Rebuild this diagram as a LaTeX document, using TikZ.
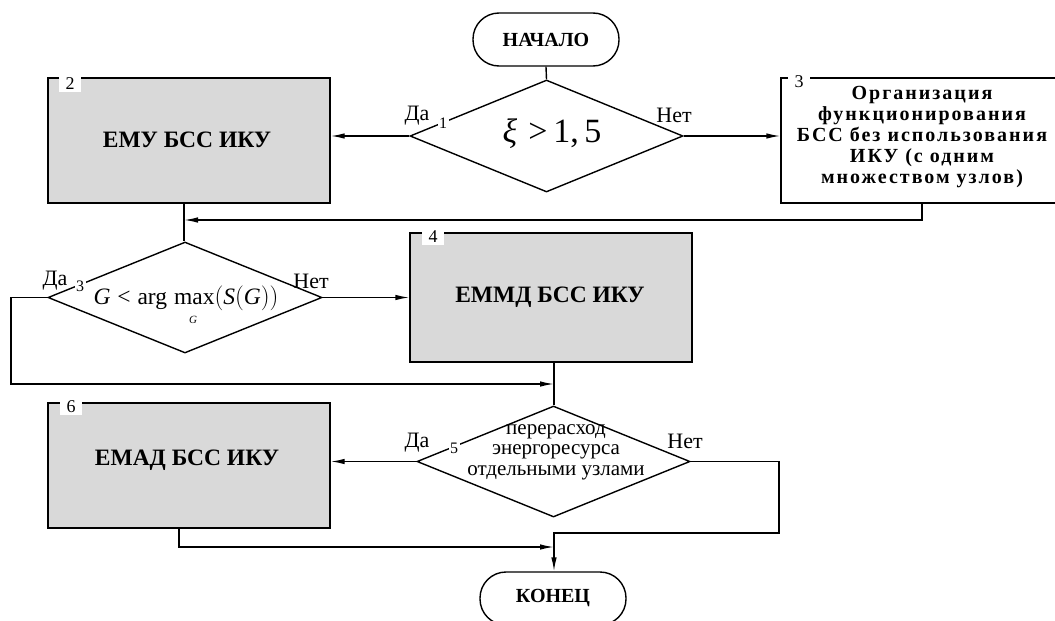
\documentclass[tikz,border=0pt]{standalone}
\usepackage{fontspec}
\setmainfont{Liberation Serif}[BoldFont={Liberation Serif Bold},ItalicFont={Liberation Serif Italic}]
\usetikzlibrary{shapes.geometric,arrows.meta}
\tikzset{
  box/.style={draw, line width=1.4pt, fill=boxgrey, minimum width=282pt, inner sep=0pt},
  wbox/.style={draw, line width=1.4pt, fill=white, minimum width=282pt, inner sep=0pt},
  term/.style={draw, line width=1.4pt, rounded corners=26pt, minimum width=146pt, minimum height=53pt, inner sep=0pt, font=\fontsize{20}{22}\selectfont\bfseries},
  dia/.style={draw, diamond, line width=1.4pt, inner sep=0pt},
  conn/.style={line width=1.4pt},
  arr/.style={line width=1.4pt, -{Latex[length=14pt,width=5.5pt]}},
  yn/.style={font=\fontsize{22}{22}\selectfont, inner sep=1pt},
  num/.style={font=\fontsize{16}{16}\selectfont, fill=white, inner sep=1.5pt},
  bnum/.style={font=\fontsize{18}{18}\selectfont, fill=white, inner sep=0pt, minimum width=22pt, minimum height=16pt},
  btext/.style={font=\fontsize{23.5}{26}\selectfont\bfseries},
}
\definecolor{boxgrey}{HTML}{D9D9D9}
\begin{document}
\begin{tikzpicture}[x=1pt,y=-1pt]
\useasboundingbox (0,0) rectangle (1055,621);
\clip (0,0) rectangle (1055,621);
% terminals
\node[term] (start) at (546,39.5) {НАЧАЛО};
\node[term] (end) at (553,598.5) {КОНЕЦ};
% diamonds
\node[dia, minimum width=273pt, minimum height=112pt] (d1) at (546.5,136) {};
\node[dia, minimum width=274pt, minimum height=111pt] (d3) at (185,297.5) {};
\node[dia, minimum width=273pt, minimum height=111pt] (d5) at (553.5,461.5) {};
% boxes
\node[box, minimum height=125pt] (b2) at (189,140.5) {};
\node[wbox, minimum height=125pt] (b3) at (922,140.5) {};
\node[box, minimum height=129pt] (b4) at (551,297.5) {};
\node[box, minimum height=125pt] (b6) at (189,465.5) {};
% box texts
\node[btext] (t2) at (187,140) {ЕМУ БСС ИКУ};
\node[btext] (t4) at (550,297) {ЕММД БСС ИКУ};
\node[btext] (t6) at (187,460) {ЕМАД БСС ИКУ};
\node[align=center, font=\fontsize{20}{21}\selectfont\bfseries\addfontfeatures{LetterSpace=10}] (t3) at (922,137)
  {Организация\\функционирования\\БСС без использования\\ИКУ (с одним\\множеством узлов)};
% box numbers
\node[bnum] (n2) at (70,84) {2};
\node[bnum] (n3) at (799,82) {3};
\node[bnum] (n4) at (433,237) {4};
\node[bnum] (n6) at (71,407) {6};
% diamond texts
\node[font=\fontsize{34}{36}\selectfont] (x1) at (552,134) {\textit{ξ}\,\,>\,1,\,5};
\node[font=\fontsize{23.5}{24}\selectfont] (x3) at (186,298)
  {$\hbox{\itshape G}\mathrel{\hbox{<}}\hbox{arg}\;\hbox{max}\Bigl(\hbox{\itshape S}\bigl(\hbox{\itshape G}\bigr)\Bigr)$};
\node[font=\fontsize{11}{11}\selectfont\itshape, inner sep=0.5pt] (sg) at (193,320) {G};
\node[align=center, font=\fontsize{21}{20.5}\selectfont] (x5) at (556,452)
  {перерасход\\энергоресурса\\отдельными узлами};
% decision labels
\node[yn] (da1) at (417,116) {Да};
\node[num] (one) at (443,123) {1};
\node[yn, fill=white] (net1) at (674,115) {Нет};
\node[yn] (da3) at (55,281) {Да};
\node[num] (three) at (80,286) {3};
\node[yn] (net3) at (311,281) {Нет};
\node[yn] (da5) at (417,443) {Да};
\node[num] (five) at (454,448) {5};
\node[yn] (net5) at (685,441) {Нет};
% junction coordinates
\coordinate (j1) at (184,220);
\coordinate (j2) at (554,384);
\coordinate (j3) at (554,547);
\coordinate (j4) at (554,533);
\coordinate (k1) at (11,297.5);
\coordinate (k2) at (779,461.5);
% connectors
\draw[conn] (start.south) -- (d1.north);
\draw[arr] (d1.west) -- (d1.west -| b2.east);
\draw[arr] (d1.east) -- (d1.east -| b3.west);
\draw[arr] (b3.south) |- (j1);
\draw[conn] (b2.south -| j1) -- (d3.north -| j1);
\draw[arr] (d3.west) -- (k1) |- (j2);
\draw[arr] (d3.east) -- (d3.east -| b4.west);
\draw[conn] (b4.south -| j2) -- (d5.north -| j2);
\draw[arr] (d5.west) -- (d5.west -| b6.east);
\draw[arr] ([xshift=-10pt]b6.south) |- (j3);
\draw[arr] (d5.east) -- (k2) |- (j4) -- (end.north -| j4);
\end{tikzpicture}
\end{document}
